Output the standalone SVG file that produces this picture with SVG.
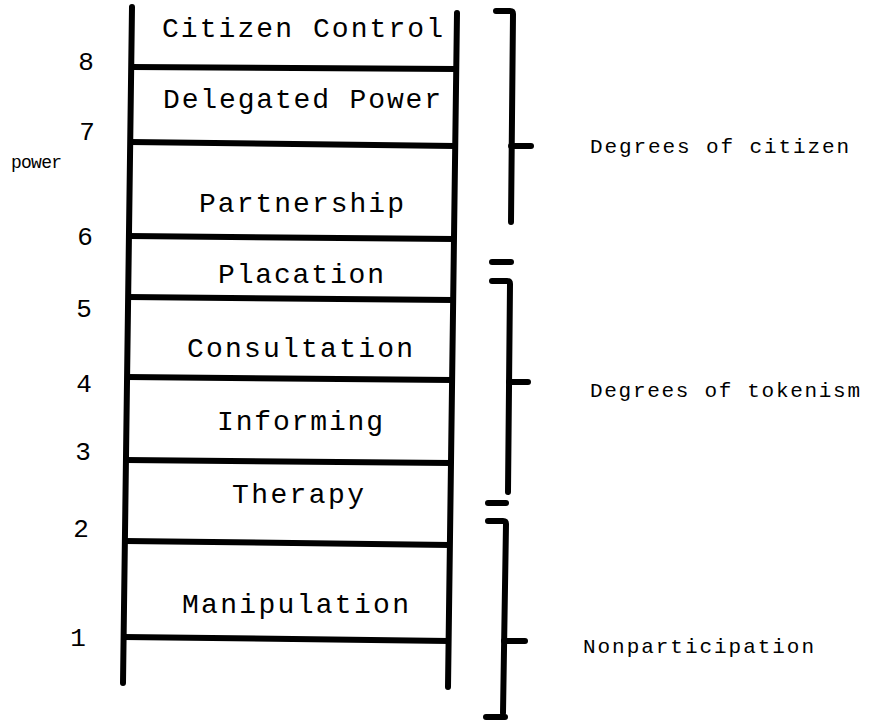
<svg xmlns="http://www.w3.org/2000/svg" width="875" height="721" viewBox="0 0 875 721">
<style>
.ln{stroke:#000;stroke-width:6;fill:none;stroke-linecap:round;stroke-linejoin:round}
.rung{stroke:#000;stroke-width:6;fill:none;stroke-linecap:butt}
.lbl{font-family:"Liberation Mono","DejaVu Sans Mono",monospace;font-size:28px;fill:#000}
.num{font-family:"Liberation Mono","DejaVu Sans Mono",monospace;font-size:26px;fill:#000;text-anchor:middle}
.side{font-family:"Liberation Mono","DejaVu Sans Mono",monospace;font-size:21px;fill:#000}
.pw{font-family:"Liberation Mono","DejaVu Sans Mono",monospace;font-size:18px;fill:#000}
</style>
<rect width="875" height="721" fill="#fff"/>
<g id="ladder">
  <path class="ln" d="M132 7 L123 683"/>
  <path class="ln" d="M457 13 L448 687"/>
  <path class="rung" d="M131 67 L456 69"/>
  <path class="rung" d="M130 142 L455 146"/>
  <path class="rung" d="M129 236 L454 239"/>
  <path class="rung" d="M128 297 L453 300"/>
  <path class="rung" d="M127 377 L452 380"/>
  <path class="rung" d="M126 460 L451 463"/>
  <path class="rung" d="M125 541 L450 545"/>
  <path class="rung" d="M124 637 L449 641"/>
</g>
<g id="rung-8"><text class="lbl" x="162" y="37" textLength="281" lengthAdjust="spacing">Citizen Control</text></g>
<g id="rung-7"><text class="lbl" x="163" y="108" textLength="278" lengthAdjust="spacing">Delegated Power</text></g>
<g id="rung-6"><text class="lbl" x="199" y="212" textLength="205" lengthAdjust="spacing">Partnership</text></g>
<g id="rung-5"><text class="lbl" x="218" y="283" textLength="166" lengthAdjust="spacing">Placation</text></g>
<g id="rung-4"><text class="lbl" x="187" y="357" textLength="226" lengthAdjust="spacing">Consultation</text></g>
<g id="rung-3"><text class="lbl" x="217" y="430" textLength="166" lengthAdjust="spacing">Informing</text></g>
<g id="rung-2"><text class="lbl" x="232" y="503" textLength="132" lengthAdjust="spacing">Therapy</text></g>
<g id="rung-1"><text class="lbl" x="182" y="613" textLength="227" lengthAdjust="spacing">Manipulation</text></g>
<g id="numbers">
  <text class="num" x="86" y="70">8</text>
  <text class="num" x="87" y="140">7</text>
  <text class="num" x="85" y="245">6</text>
  <text class="num" x="84" y="317">5</text>
  <text class="num" x="84" y="392">4</text>
  <text class="num" x="83" y="460">3</text>
  <text class="num" x="81" y="537">2</text>
  <text class="num" x="78" y="646">1</text>
</g>
<g id="power-label"><text class="pw" x="11" y="168" textLength="51" lengthAdjust="spacing">power</text></g>
<g id="brackets">
  <path class="ln" d="M496 11 H510 Q513 11 513 14 L511 222"/>
  <path class="ln" d="M511 146 H531"/>
  <path class="ln" d="M492 262 H511"/>
  <path class="ln" d="M492 281 H507 Q510 281 510 284 L508 492"/>
  <path class="ln" d="M509 382 H528"/>
  <path class="ln" d="M488 503 H506"/>
  <path class="ln" d="M488 521 H503 Q506 521 506 524 L503 713"/>
  <path class="ln" d="M504 641 H525"/>
  <path class="ln" d="M486 717 H505"/>
</g>
<g id="group-citizen-power"><text class="side" x="590" y="153" textLength="259" lengthAdjust="spacing">Degrees of citizen</text></g>
<g id="group-tokenism"><text class="side" x="590" y="397" textLength="270" lengthAdjust="spacing">Degrees of tokenism</text></g>
<g id="group-nonparticipation"><text class="side" x="583" y="653" textLength="231" lengthAdjust="spacing">Nonparticipation</text></g>
</svg>
